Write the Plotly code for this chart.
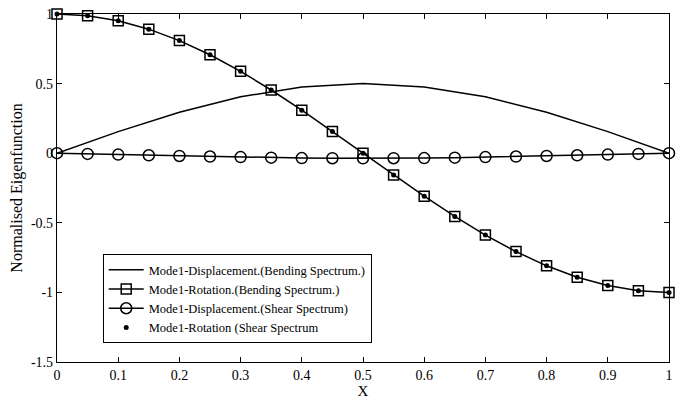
import plotly.graph_objects as go

x_line = [0, 0.1, 0.2, 0.3, 0.4, 0.5, 0.6, 0.7, 0.8, 0.9, 1.0]
disp_bending = [0, 0.155, 0.294, 0.405, 0.476, 0.5, 0.476, 0.405, 0.294, 0.155, 0]

x_pts = [0, 0.05, 0.1, 0.15, 0.2, 0.25, 0.3, 0.35, 0.4, 0.45, 0.5,
         0.55, 0.6, 0.65, 0.7, 0.75, 0.8, 0.85, 0.9, 0.95, 1.0]
rot_bending = [1, 0.988, 0.951, 0.891, 0.809, 0.707, 0.588, 0.454, 0.309, 0.156, 0,
               -0.156, -0.309, -0.454, -0.588, -0.707, -0.809, -0.891, -0.951, -0.988, -1]
disp_shear = [0, -0.005, -0.01, -0.015, -0.02, -0.024, -0.028, -0.032, -0.035, -0.036, -0.037,
              -0.036, -0.035, -0.032, -0.028, -0.024, -0.02, -0.015, -0.01, -0.005, 0]
rot_shear = [1, 0.988, 0.951, 0.891, 0.809, 0.707, 0.588, 0.454, 0.309, 0.156, 0,
             -0.156, -0.309, -0.454, -0.588, -0.707, -0.809, -0.891, -0.951, -0.988, -1]

names = ["Mode1-Displacement.(Bending Spectrum.)",
         "Mode1-Rotation.(Bending Spectrum.)",
         "Mode1-Displacement.(Shear Spectrum)",
         "Mode1-Rotation (Shear Spectrum"]

x_ticks = [0, 0.1, 0.2, 0.3, 0.4, 0.5, 0.6, 0.7, 0.8, 0.9, 1]
x_ticklabels = ["0", "0.1", "0.2", "0.3", "0.4", "0.5", "0.6", "0.7", "0.8", "0.9", "1"]
y_ticks = [-1.5, -1, -0.5, 0, 0.5, 1]
y_ticklabels = ["-1.5", "-1", "-0.5", "0", "0.5", "1"]

fig = go.Figure()
fig.add_trace(go.Scatter(x=x_line, y=disp_bending, mode="lines", name=names[0],
                         line=dict(color="black", width=1.5), cliponaxis=False))
fig.add_trace(go.Scatter(x=x_pts, y=rot_bending, mode="lines+markers", name=names[1],
                         line=dict(color="black", width=1.5), cliponaxis=False,
                         marker=dict(symbol="square-open", size=10, color="black",
                                     line=dict(width=1.5, color="black"))))
fig.add_trace(go.Scatter(x=x_pts, y=disp_shear, mode="lines+markers", name=names[2],
                         line=dict(color="black", width=1.5), cliponaxis=False,
                         marker=dict(symbol="circle-open", size=11, color="black",
                                     line=dict(width=1.5, color="black"))))
fig.add_trace(go.Scatter(x=x_pts, y=rot_shear, mode="markers", name=names[3],
                         cliponaxis=False,
                         marker=dict(symbol="circle", size=5, color="black")))

font = "Liberation Serif, Times New Roman, serif"
fig.update_layout(
    width=680, height=403,
    margin=dict(l=57, r=7, t=14, b=38),
    paper_bgcolor="white", plot_bgcolor="white",
    font=dict(family=font, size=14, color="black"),
    showlegend=True,
    legend=dict(x=0.0747, y=0.31, xanchor="left", yanchor="top",
                bgcolor="white", bordercolor="black", borderwidth=1,
                font=dict(family=font, size=12.5, color="black"),
                tracegroupgap=0, itemwidth=35),
    xaxis=dict(range=[0, 1], tickvals=x_ticks, ticktext=x_ticklabels,
               ticks="inside", ticklen=5, tickcolor="black", mirror="ticks",
               showline=True, linecolor="black", linewidth=1.2,
               showgrid=False, zeroline=False, tickfont=dict(size=14),
               title=dict(text="X", font=dict(family=font, size=15), standoff=3)),
    yaxis=dict(range=[-1.5, 1], tickvals=y_ticks, ticktext=y_ticklabels,
               ticks="inside", ticklen=5, tickcolor="black", mirror="ticks",
               showline=True, linecolor="black", linewidth=1.2,
               showgrid=False, zeroline=False, tickfont=dict(size=14),
               title=dict(text="Normalised Eigenfunction", font=dict(family=font, size=16), standoff=4)),
)

fig.write_html("out.html", config={"displayModeBar": False},
               post_script="document.body.style.margin='0';document.body.style.overflow='hidden';")
